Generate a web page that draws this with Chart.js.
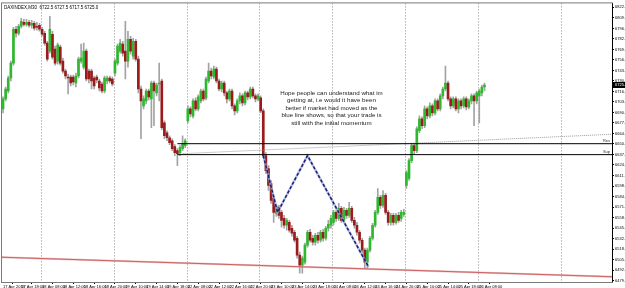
<!DOCTYPE html>
<html><head><meta charset="utf-8">
<script src="https://cdn.jsdelivr.net/npm/chart.js@4.4.1/dist/chart.umd.min.js"></script>
<style>html,body{margin:0;padding:0;background:#fff;overflow:hidden}</style>
</head><body>
<canvas id="c" width="625" height="288"></canvas>
<script>
// ---- data ----
const symbolTitle = 'DAXINDEX,M30';
const days = ['17 Apr','18 Apr','19 Apr','22 Apr','23 Apr','24 Apr','25 Apr','26 Apr'];
const openP = [
6695,6707.5,6717.5,6733.75,6752.5,6795,6790,6798.75,6803.75,6801.25,
6803.75,6800,6802.5,6798.75,6800,6795,6790,6777.5,6767.5,6788.75,
6770,6755,6772.5,6755,6742.5,6735,6735,6735,6727.5,6736.25,
6755,6747.5,6767.5,6742.5,6742.5,6733.75,6735,6730,6726.25,6717.5,
6730,6733.75,6732.5,6740,6752.5,6767.5,6776.25,6767.5,6755,6782.5,
6761.25,6780,6757.5,6720,6698.75,6705,6717.5,6707.5,6727.5,6715,
6726.25,6730,6677.5,6665,6658.75,6655,6647.5,6642.5,6640,6645,
6648.75,6680,6695,6686.25,6705,6695,6705,6717.5,6708.75,6730,
6742.5,6735,6745,6730,6720,6727.5,6715,6707.5,6717.5,6698.75,
6692.5,6705,6711.25,6702.5,6715,6710,6720,6711.25,6707.5,6708.75,
6692.5,6636.25,6620,6601.25,6582.5,6563.75,6571.25,6565,6557.5,6548.75,
6552.5,6545,6540,6532.5,6511.25,6498.75,6502.5,6523.75,6540,6532.5,
6527.5,6536.25,6530,6540,6532.5,6545,6548.75,6552.5,6565,6557.5,
6570,6555,6567.5,6561.25,6570,6555,6548.75,6540,6530,6517.5,
6502.5,6517.5,6532.5,6548.75,6565,6583.75,6573.75,6586.25,6565,6552.5,
6561.25,6552.5,6561.25,6557.5,6562.5,6598.75,6607.5,6630,6648.75,6642.5,
6667.5,6682.5,6673.75,6695,6686.25,6698.75,6690,6705,6695,6711.25,
6720,6727.5,6707.5,6698.75,6707.5,6695,6705,6698.75,6707.5,6697.5,
6705,6711.25,6705,6711.25,6715,6722.5];
const highP = [
6710,6722.5,6736.25,6755,6797.5,6798.75,6801.25,6808.75,6807.5,6807.5,
6806.25,6806.25,6805,6803.75,6802.5,6797.5,6792.5,6780,6811.25,6792.5,
6773.75,6777.5,6775,6758.75,6745,6738.75,6737.5,6737.5,6740,6760,
6776.25,6777.5,6770,6745,6745,6736.25,6737.5,6732.5,6728.75,6736.25,
6736.25,6736.25,6735,6757.5,6776.25,6782.5,6780,6805,6792.5,6786.25,
6783.75,6782.5,6761.25,6723.75,6711.25,6720,6720,6730,6730,6727.5,
6752.5,6732.5,6680,6667.5,6661.25,6657.5,6650,6645,6648.75,6661.25,
6657.5,6698.75,6697.5,6707.5,6708.75,6712.5,6720,6720,6735,6752.5,
6746.25,6748.75,6747.5,6732.5,6730,6730,6717.5,6720,6720,6701.25,
6707.5,6715,6713.75,6717.5,6717.5,6722.5,6722.5,6713.75,6713.75,6711.25,
6695,6640,6623.75,6605,6585,6575,6573.75,6567.5,6561.25,6557.5,
6555,6548.75,6542.5,6535,6515,6510,6526.25,6542.5,6543.75,6536.25,
6538.75,6540,6542.5,6543.75,6547.5,6555,6561.25,6567.5,6567.5,6576.25,
6572.5,6571.25,6570,6577.5,6572.5,6558.75,6552.5,6542.5,6532.5,6520,
6520,6535,6551.25,6567.5,6595,6586.25,6592.5,6588.75,6567.5,6563.75,
6563.75,6563.75,6565,6567.5,6568.75,6617.5,6632.5,6651.25,6651.25,6672.5,
6686.25,6685,6698.75,6697.5,6702.5,6701.25,6707.5,6707.5,6713.75,6722.5,
6748.75,6730,6710,6710,6710,6707.5,6707.5,6710,6710,6707.5,
6713.75,6713.75,6717.5,6720,6725,6727.5];
const lowP = [
6690,6705,6715,6730,6750,6785,6787.5,6796.25,6798.75,6798.75,
6797.5,6796.25,6793.75,6793.75,6792.5,6786.25,6775,6755,6765,6757.5,
6750,6751.25,6750,6740,6732.5,6713.75,6723.75,6725,6722.5,6733.75,
6752.5,6745,6730,6727.5,6720,6720,6727.5,6717.5,6715,6715,
6726.25,6727.5,6723.75,6736.25,6750,6765,6761.25,6732.5,6747.5,6763.75,
6757.5,6755,6715,6657.5,6695,6701.25,6706.25,6671.25,6673.75,6711.25,
6705,6668.75,6657.5,6655,6650,6642.5,6636.25,6623.75,6636.25,6642.5,
6646.25,6677.5,6685,6683.75,6692.5,6692.5,6702.5,6705,6706.25,6727.5,
6732.5,6732.5,6727.5,6717.5,6716.25,6711.25,6702.5,6705,6695,6687.5,
6690,6701.25,6698.75,6700,6706.25,6707.5,6708.75,6703.75,6705,6690,
6633.75,6613.75,6592.5,6576.25,6552.5,6560,6557.5,6546.25,6545,6542.5,
6540,6535,6527.5,6507.5,6488.75,6488.75,6500,6521.25,6527.5,6523.75,
6523.75,6526.25,6527.5,6528.75,6530,6541.25,6545,6548.75,6553.75,6555,
6552.5,6552.5,6557.5,6558.75,6552.5,6545,6536.25,6526.25,6513.75,6495,
6495,6515,6530,6546.25,6562.5,6570,6571.25,6562.5,6548.75,6548.75,
6548.75,6550,6552.5,6553.75,6560,6595,6605,6627.5,6638.75,6640,
6665,6670,6671.25,6682.5,6683.75,6686.25,6687.5,6692.5,6692.5,6707.5,
6717.5,6705,6695,6696.25,6692.5,6690,6695,6696.25,6693.75,6695,
6701.25,6673.75,6701.25,6677.5,6711.25,6717.5];
const closeP = [
6707.5,6720,6733.75,6752.5,6795,6790,6798.75,6805,6801.25,6803.75,
6800,6802.5,6796.25,6797.5,6795,6788.75,6777.5,6757.5,6795,6760,
6752.5,6775,6752.5,6742.5,6736.25,6733.75,6727.5,6728.75,6736.25,6757.5,
6758.75,6767.5,6732.5,6732.5,6730,6723.75,6731.25,6721.25,6717.5,6733.75,
6733.75,6730,6726.25,6755,6773.75,6777.5,6765,6755,6782.5,6767.5,
6780,6757.5,6720,6705,6707.5,6717.5,6710,6727.5,6717.5,6725,
6727.5,6671.25,6661.25,6658.75,6652.5,6645,6640,6638.75,6646.25,6651.25,
6655,6695,6688.75,6705,6695,6710,6717.5,6707.5,6732.5,6742.5,
6736.25,6745,6730,6720,6727.5,6715,6707.5,6717.5,6698.75,6692.5,
6705,6711.25,6702.5,6715,6710,6720,6711.25,6707.5,6711.25,6692.5,
6636.25,6617.5,6598.75,6580,6565,6572.5,6561.25,6555,6548.75,6555,
6542.5,6538.75,6530,6511.25,6498.75,6507.5,6523.75,6540,6530,6527.5,
6536.25,6530,6540,6532.5,6545,6550,6557.5,6565,6557.5,6570,
6555,6567.5,6561.25,6570,6555,6548.75,6540,6530,6517.5,6502.5,
6517.5,6532.5,6548.75,6565,6583.75,6573.75,6586.25,6565,6552.5,6561.25,
6552.5,6561.25,6555,6565,6565,6615,6630,6648.75,6642.5,6670,
6682.5,6673.75,6695,6686.25,6698.75,6690,6705,6695,6711.25,6720,
6727.5,6707.5,6698.75,6707.5,6695,6705,6698.75,6707.5,6697.5,6705,
6711.25,6705,6715,6717.5,6722.5,6725];
const yTickLabels = [6822.5,6809.3,6796.1,6782.9,6769.7,6756.5,6743.3,6730.1,6716.9,6703.7,
  6690.5,6677.3,6664.1,6650.9,6637.7,6624.5,6611.3,6598.1,6584.9,6571.7,6558.5,6545.3,
  6532.1,6518.9,6505.7,6492.5,6479.3];
const separators = [15,43,71,99,127,155,183,215];
const resLine = [{x:67,y:6651.25},{x:234,y:6651.25}];
const supLine = [{x:67,y:6637.5},{x:234,y:6637.5}];
const dottedTrend = [{x:69,y:6638.75},{x:234,y:6663.1}];
const redTrend = [{x:-0.4,y:6508.6},{x:234,y:6484.1}];
const blueZigzag = [{x:100,y:6636.25},{x:105.5,y:6565},{x:117,y:6636.25},{x:140.5,y:6496.25}];
const noteLines = ['Hope people can understand what im','getting at, i.e would it have been',
  'better if market had moved as the','blue line shows, so that your trade is','still with the initial momentum'];
const noteAnchor = {x:126.2, y:6715};

// ---- derived ----
const barLabels = [];
days.forEach((d,k)=>{
  const start = k===0 ? 14*60+30 : 8*60;
  for(let m=start;m<22*60;m+=30){
    barLabels.push(d+' '+String(Math.floor(m/60)).padStart(2,'0')+':'+String(m%60).padStart(2,'0'));
  }
});
barLabels[0] = '17 Apr 2013';
const xLabelIdx = [0];
for(let i=7;i<openP.length;i+=8) xLabelIdx.push(i);
const idx = openP.map((_,i)=>i);
const bull = '#2eb82e', bear = '#9a1b1b', wickC = '#a3a3a3';
const FONT = 'Liberation Sans, Arial, sans-serif';

const overlay = {
  id:'overlay',
  beforeDatasetsDraw(chart){
    const {ctx, chartArea:a, scales:{x}} = chart;
    ctx.save();
    ctx.strokeStyle = '#8c8c8c'; ctx.lineWidth = 1; ctx.setLineDash([1,2]);
    separators.forEach(i=>{
      const px = Math.round(x.getPixelForValue(i-0.5))+0.5;
      ctx.beginPath(); ctx.moveTo(px,a.top); ctx.lineTo(px,a.bottom); ctx.stroke();
    });
    ctx.restore();
  },
  afterDraw(chart){
    const {ctx, chartArea:a, scales:{x,y}} = chart;
    ctx.save();
    ctx.strokeStyle = '#7a7a7a'; ctx.lineWidth = 1;
    ctx.strokeRect(a.left-0.5, a.top-0.5, a.right-a.left+1, a.bottom-a.top+1);
    ctx.strokeStyle = '#000';
    ctx.beginPath(); ctx.moveTo(a.right+0.5,a.top); ctx.lineTo(a.right+0.5,a.bottom); ctx.stroke();
    const n = openP.length-1;
    ctx.fillStyle = '#000'; ctx.font = '4.5px '+FONT; ctx.textBaseline='middle'; ctx.textAlign='left';
    ctx.fillText(symbolTitle+'  '+[openP[n],highP[n],lowP[n],closeP[n]].map(v=>v.toFixed(1)).join(' '), a.left+2, a.top+4);
    ctx.font = '6.2px '+FONT; ctx.textAlign='center'; ctx.fillStyle='#222';
    const nx = x.getPixelForValue(noteAnchor.x), ny = y.getPixelForValue(noteAnchor.y);
    noteLines.forEach((t,k)=>ctx.fillText(t, nx, ny + k*7.5));
    ctx.font = '4px '+FONT; ctx.textAlign='right'; ctx.fillStyle='#333';
    ctx.fillText('Res', a.right-2, y.getPixelForValue(resLine[0].y)-2.5);
    ctx.fillText('Sup', a.right-2, y.getPixelForValue(supLine[0].y)-2.5);
    const py = Math.round(y.getPixelForValue(closeP[n]));
    ctx.fillStyle = '#000'; ctx.fillRect(a.right+1, py-3, 13, 6);
    ctx.fillStyle = '#fff'; ctx.textAlign='left'; ctx.font='4px '+FONT;
    ctx.fillText(closeP[n].toFixed(1), a.right+3, py);
    ctx.restore();
  }
};

new Chart(document.getElementById('c'), {
  type:'bar',
  data:{ datasets:[
    {type:'line', data:blueZigzag, borderColor:'rgba(150,165,215,0.7)', borderWidth:2.5, pointRadius:0, order:2},
    {type:'line', data:blueZigzag, borderColor:'#1b1b70', borderWidth:1.5, borderDash:[3,2], pointRadius:0, order:1},
    {type:'line', data:resLine, borderColor:'#000', borderWidth:1, pointRadius:0, order:1},
    {type:'line', data:supLine, borderColor:'#000', borderWidth:1, pointRadius:0, order:1},
    {type:'line', data:dottedTrend, borderColor:'#9a9a9a', borderWidth:1, borderDash:[1,1], pointRadius:0, order:3},
    {type:'line', data:redTrend, borderColor:'rgba(225,150,150,0.6)', borderWidth:2, pointRadius:0, order:4},
    {type:'line', data:redTrend, borderColor:'#a81818', borderWidth:1, pointRadius:0, order:4},
    {data: idx.map(i=>({x:i, y:[lowP[i], highP[i]]})), backgroundColor:wickC, grouped:false,
      maxBarThickness:1, barPercentage:1, categoryPercentage:1, minBarLength:1, order:6},
    {data: idx.map(i=>({x:i, y:[openP[i], closeP[i]]})), grouped:false,
      backgroundColor: c => closeP[c.dataIndex] >= openP[c.dataIndex] ? bull : bear,
      maxBarThickness:2, barPercentage:1, categoryPercentage:1, minBarLength:1, order:5}
  ]},
  options:{
    responsive:false, animation:false, devicePixelRatio:1,
    layout:{padding:{top:2,left:2,right:0,bottom:0}},
    plugins:{legend:{display:false}, tooltip:{enabled:false}},
    scales:{
      x:{type:'linear', min:-0.4, max:234, offset:false, position:'bottom',
        afterBuildTicks:s=>{ s.ticks = xLabelIdx.map(v=>({value:v})); },
        afterFit:s=>{ s.height = 6; },
        grid:{drawOnChartArea:false, drawTicks:true, tickLength:2, color:'#000'},
        border:{display:true, color:'#000'},
        ticks:{autoSkip:false, maxRotation:0, minRotation:0, padding:0, align:'start',
          font:{size:4, family:FONT}, color:'#000', callback:v=>barLabels[v] ?? ''}},
      y:{type:'linear', position:'right', min:6477.5, max:6827.5,
        afterBuildTicks:s=>{ s.ticks = yTickLabels.map(v=>({value:v})); },
        afterFit:s=>{ s.width = 13; },
        grid:{drawOnChartArea:false, tickLength:2, color:'#000'},
        border:{display:true, color:'#000'},
        ticks:{autoSkip:false, padding:1, font:{size:4, family:FONT}, color:'#000', callback:v=>v.toFixed(1)}}
    }
  },
  plugins:[overlay]
});
</script>
</body></html>
